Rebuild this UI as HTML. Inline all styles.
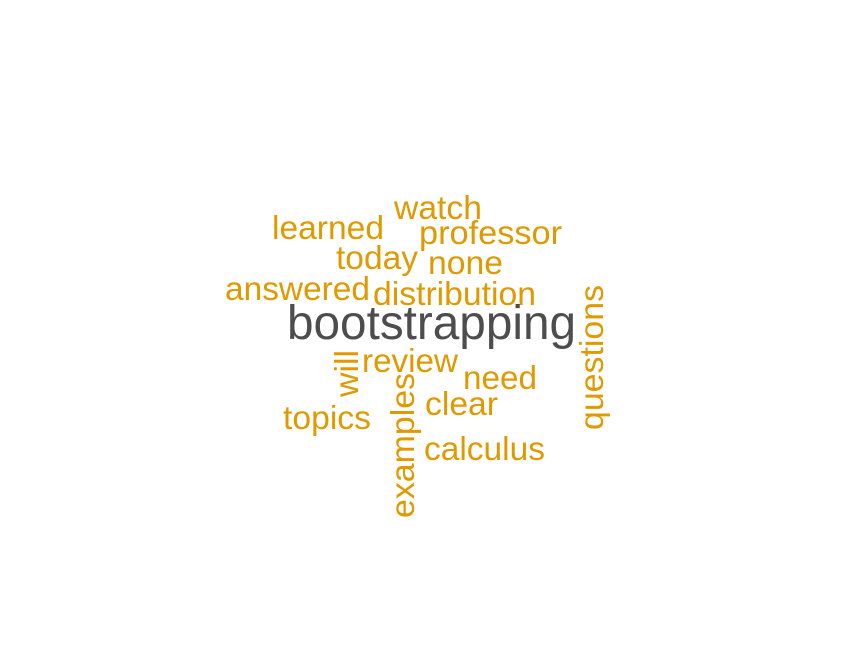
<!DOCTYPE html>
<html><head><meta charset="utf-8"><style>
html,body{margin:0;padding:0;background:#fff;}
svg text{font-family:"Liberation Sans",Arial,sans-serif;}
</style></head><body>
<svg width="864" height="648" viewBox="0 0 864 648">
<rect width="864" height="648" fill="#fff"/>
<g id="cloud"></g>
</svg>
<script>
const words = ["watch","learned","professor","today","none","answered","distribution","bootstrapping","questions","will","review","need","examples","clear","topics","calculus"];
const freqs = [1,1,1,1,1,1,1,3,1,1,1,1,1,1,1,1];
const xs = [394,272,419,336,428,225,373,287,603,358,362,463,414,425,283,424];
const ys = [219,239,244,269,274,300,305,339,430,397,372,389,518,415,429,460];
const rot = [0,0,0,0,0,0,0,0,1,1,0,0,1,0,0,0];
const lens = [88,112,143,82,75,145,163,289,145,47,96,74,145,73,88,121];
const g = document.getElementById('cloud');
const NS = "http://www.w3.org/2000/svg";
words.forEach((w,i)=>{
  const t = document.createElementNS(NS,'text');
  const big = freqs[i] > 1;
  t.setAttribute('x', xs[i]);
  t.setAttribute('y', ys[i]);
  t.setAttribute('font-size', big ? 48 : 33);
  t.setAttribute('fill', big ? '#4d4d4d' : '#e09a00');
  t.setAttribute('textLength', lens[i]);
  t.setAttribute('lengthAdjust', 'spacingAndGlyphs');
  if (rot[i]) t.setAttribute('transform', `rotate(-90 ${xs[i]} ${ys[i]})`);
  t.textContent = w;
  
  
  g.appendChild(t);
});
</script>
</body></html>
